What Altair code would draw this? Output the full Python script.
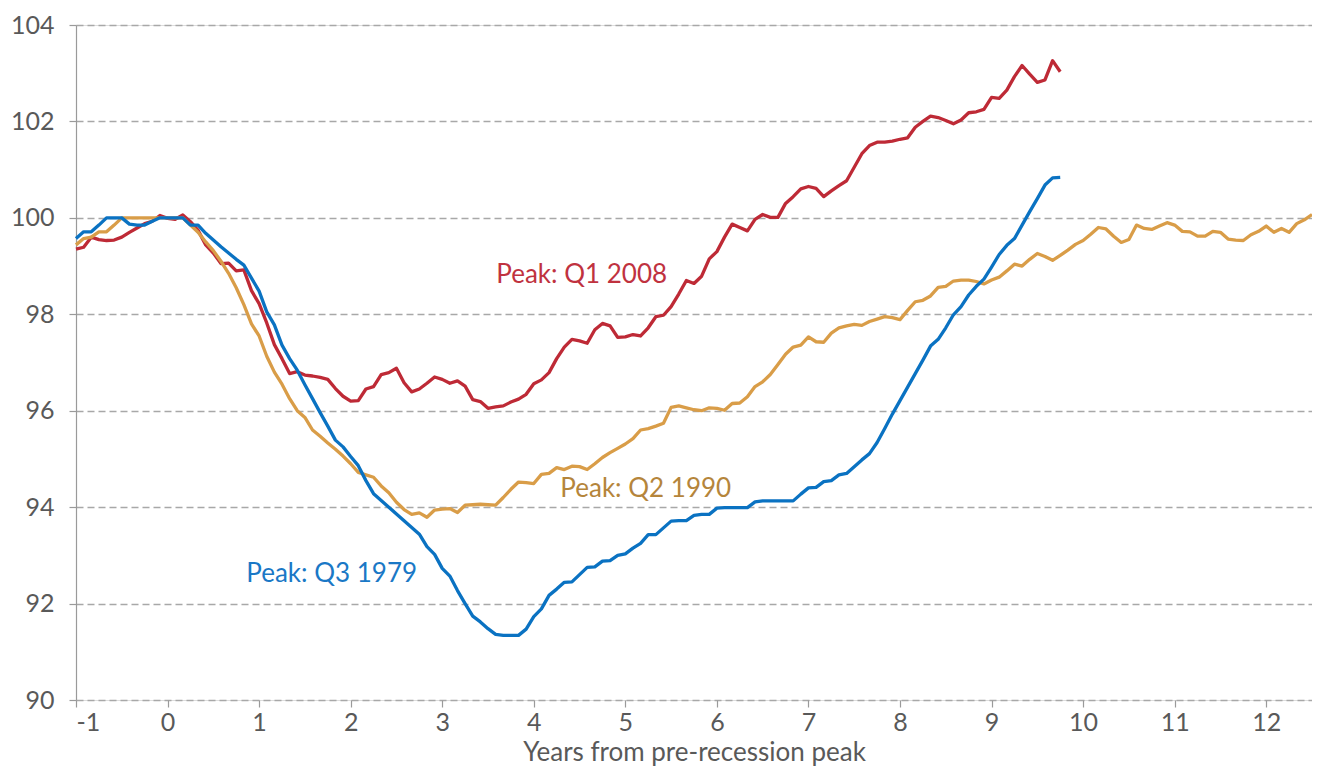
import altair as alt
import pandas as pd

# Monthly index (100 at pre-recession peak), starting one year before the peak
q1_2008 = [
    99.35, 99.39, 99.60, 99.55, 99.53, 99.54, 99.60, 99.70, 99.79, 99.88, 99.93, 100.05,
    99.99, 99.97, 100.06, 99.92, 99.74, 99.44, 99.27, 99.05, 99.06, 98.90, 98.92, 98.49,
    98.22, 97.82, 97.37, 97.08, 96.77, 96.81, 96.74, 96.72, 96.69, 96.65, 96.46, 96.30,
    96.20, 96.21, 96.45, 96.50, 96.75, 96.79, 96.88, 96.58, 96.39, 96.45, 96.57, 96.70,
    96.65, 96.57, 96.62, 96.51, 96.23, 96.19, 96.05, 96.08, 96.10, 96.18, 96.24, 96.34,
    96.56, 96.64, 96.79, 97.08, 97.32, 97.48, 97.45, 97.40, 97.68, 97.81, 97.76, 97.52,
    97.53, 97.58, 97.55, 97.72, 97.95, 97.98, 98.16, 98.42, 98.70, 98.64, 98.79, 99.15,
    99.30, 99.60, 99.87, 99.80, 99.73, 99.97, 100.07, 100.01, 100.01, 100.30, 100.44, 100.60,
    100.65, 100.61, 100.44, 100.56, 100.67, 100.77, 101.05, 101.33, 101.50, 101.57, 101.57, 101.59,
    101.63, 101.66, 101.88, 102.00, 102.11, 102.08, 102.02, 101.95, 102.03, 102.18, 102.20, 102.25,
    102.50, 102.48, 102.65, 102.93, 103.16, 102.98, 102.81, 102.86, 103.26, 103.03,
]

q2_1990 = [
    99.44, 99.57, 99.60, 99.71, 99.71, 99.85, 100.00, 100.00, 100.00, 100.00, 100.00, 100.00,
    100.00, 100.00, 100.00, 99.85, 99.70, 99.50, 99.32, 99.10, 98.85, 98.55, 98.20, 97.80,
    97.55, 97.13, 96.80, 96.55, 96.25, 96.00, 95.86, 95.60, 95.47, 95.33, 95.20, 95.06,
    94.90, 94.72, 94.67, 94.62, 94.44, 94.30, 94.10, 93.95, 93.85, 93.88, 93.79, 93.94,
    93.96, 93.97, 93.89, 94.04, 94.05, 94.06, 94.05, 94.04, 94.20, 94.37, 94.52, 94.51,
    94.49, 94.68, 94.70, 94.82, 94.78, 94.85, 94.84, 94.78, 94.90, 95.03, 95.13, 95.22,
    95.31, 95.42, 95.60, 95.63, 95.68, 95.74, 96.07, 96.10, 96.06, 96.02, 96.00, 96.06,
    96.05, 96.01, 96.15, 96.16, 96.29, 96.50, 96.60, 96.75, 96.96, 97.17, 97.32, 97.36,
    97.53, 97.43, 97.42, 97.61, 97.72, 97.76, 97.79, 97.77, 97.85, 97.90, 97.95, 97.93,
    97.89, 98.08, 98.26, 98.29, 98.38, 98.56, 98.58, 98.69, 98.71, 98.71, 98.68, 98.63,
    98.71, 98.77, 98.90, 99.04, 99.00, 99.14, 99.26, 99.20, 99.12, 99.22, 99.33, 99.45,
    99.53, 99.66, 99.80, 99.77, 99.62, 99.49, 99.55, 99.85, 99.78, 99.76, 99.83, 99.90,
    99.85, 99.72, 99.71, 99.62, 99.62, 99.72, 99.70, 99.56, 99.54, 99.53, 99.65, 99.72,
    99.83, 99.70, 99.78, 99.70, 99.88, 99.96, 100.07,
]

q3_1979 = [
    99.57, 99.71, 99.71, 99.85, 100.00, 100.00, 100.00, 99.87, 99.85, 99.85, 99.93, 100.00,
    100.00, 100.00, 100.00, 99.85, 99.85, 99.68, 99.54, 99.40, 99.27, 99.14, 99.02, 98.75,
    98.48, 98.05, 97.78, 97.36, 97.08, 96.84, 96.54, 96.25, 95.96, 95.68, 95.39, 95.25,
    95.05, 94.86, 94.55, 94.28, 94.14, 94.00, 93.86, 93.72, 93.58, 93.44, 93.18, 93.02,
    92.73, 92.57, 92.27, 92.00, 91.74, 91.62, 91.48, 91.36, 91.34, 91.34, 91.34, 91.47,
    91.73, 91.89, 92.17, 92.30, 92.44, 92.45, 92.60, 92.75, 92.76, 92.88, 92.89, 93.00,
    93.03, 93.15, 93.25, 93.43, 93.43, 93.57, 93.71, 93.72, 93.72, 93.83, 93.85, 93.85,
    93.98, 93.99, 93.99, 93.99, 93.99, 94.11, 94.13, 94.13, 94.13, 94.13, 94.13, 94.27,
    94.40, 94.41, 94.53, 94.55, 94.67, 94.70, 94.84, 94.98, 95.11, 95.34, 95.63, 95.93,
    96.21, 96.49, 96.77, 97.05, 97.34, 97.48, 97.72, 97.99, 98.16, 98.40, 98.58, 98.73,
    98.98, 99.24, 99.43, 99.57, 99.85, 100.13, 100.40, 100.68, 100.83, 100.84,
]

series_names = ["Q1 2008", "Q2 1990", "Q3 1979"]
series_values = [q1_2008, q2_1990, q3_1979]
line_colors = ["#BE2A36", "#D99D48", "#0A72C2"]
label_colors = ["#C0323F", "#B5853B", "#1A78C6"]

label_texts = ["Peak: Q1 2008", "Peak: Q2 1990", "Peak: Q3 1979"]
label_x = [3.59, 4.29, 0.86]
label_y = [98.81, 94.37, 92.62]

y_ticks = [90, 92, 94, 96, 98, 100, 102, 104]
x_ticks = list(range(-1, 13))

rows = []
for name, vals in zip(series_names, series_values):
    for k, v in enumerate(vals):
        rows.append({"x": -1 + k / 12.0, "value": v, "series": name})
df = pd.DataFrame(rows)

FONT = "Lato"
AXIS_COLOR = "#595959"

lines = alt.Chart(df).mark_line(strokeWidth=3.3, strokeJoin="round").encode(
    x=alt.X(
        "x:Q",
        scale=alt.Scale(domain=[-1, 12.5], nice=False, zero=False),
        axis=alt.Axis(
            values=x_ticks,
            labelExpr="toString(datum.value)",
            title="Years from pre-recession peak",
            titleFontSize=26,
            titleFontWeight="normal",
            titleColor=AXIS_COLOR,
            titleFont=FONT,
            titlePadding=4,
            labelFontSize=25,
            labelColor=AXIS_COLOR,
            labelFont=FONT,
            labelPadding=3,
            domain=False,
            grid=False,
            ticks=True,
            tickSize=7,
            tickColor="#9a9a9a",
            tickWidth=1.2,
        ),
    ),
    y=alt.Y(
        "value:Q",
        scale=alt.Scale(domain=[90, 104], nice=False, zero=False),
        axis=alt.Axis(
            values=y_ticks,
            title=None,
            labelFontSize=25,
            labelColor=AXIS_COLOR,
            labelFont=FONT,
            labelPadding=15,
            domain=True,
            domainColor="#9a9a9a",
            domainWidth=1.2,
            ticks=True,
            tickSize=7,
            tickColor="#9a9a9a",
            tickWidth=1.2,
            grid=True,
            gridColor="#a8a8a8",
            gridDash=[7, 4],
            gridWidth=1.5,
        ),
    ),
    color=alt.Color(
        "series:N",
        scale=alt.Scale(domain=series_names, range=line_colors),
        legend=None,
    ),
    detail="series:N",
)

layers = [lines]
for t, lx, ly, c in zip(label_texts, label_x, label_y, label_colors):
    ldf = pd.DataFrame({"x": [lx], "value": [ly], "text": [t]})
    layers.append(
        alt.Chart(ldf).mark_text(
            align="left", baseline="middle", fontSize=26, font=FONT, color=c
        ).encode(x="x:Q", y="value:Q", text="text:N")
    )

chart = alt.layer(*layers).properties(
    width=1236,
    height=675,
    autosize=alt.AutoSizeParams(type="none"),
    padding={"left": 68, "top": 17, "right": 0, "bottom": 67},
).configure_view(stroke=None).configure(background="white")

chart.save("out.html", embed_options={"renderer": "svg", "actions": False})
